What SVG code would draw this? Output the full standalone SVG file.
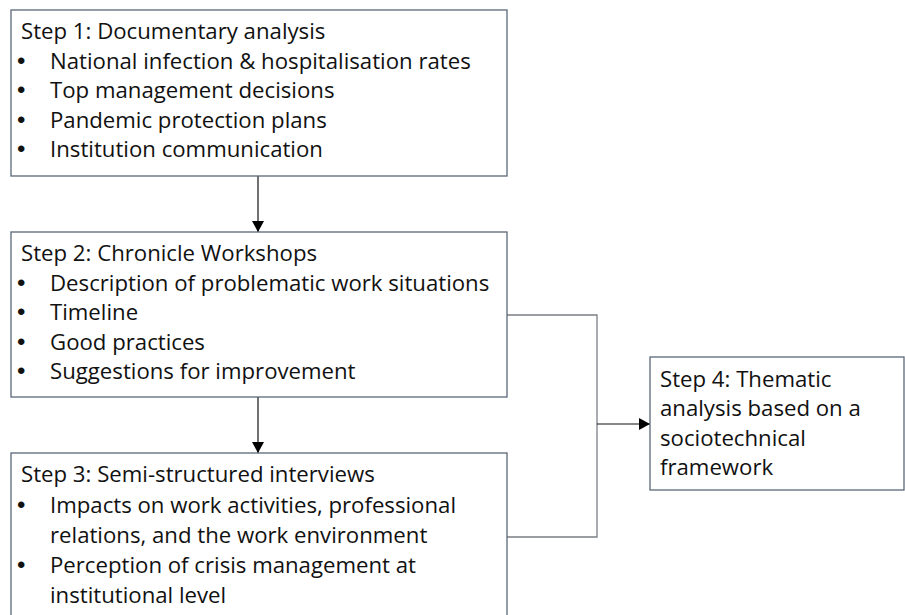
<svg xmlns="http://www.w3.org/2000/svg" width="905" height="615" viewBox="0 0 905 615">
<style>
.box{fill:#fff;stroke:#5b6878;stroke-width:1.3}
.t{font-family:"Open Sans","Liberation Sans",sans-serif;font-size:22.2px;fill:#111}
.b{font-family:"Liberation Sans",sans-serif;font-size:24px;fill:#111}
.c{fill:none;stroke:#111;stroke-width:1.2}
.g{fill:none;stroke:#7a7f85;stroke-width:1.3}
</style>
<defs>
<marker id="ah" viewBox="0 0 11 12" refX="11" refY="6" markerWidth="11" markerHeight="12" markerUnits="userSpaceOnUse" orient="auto">
<path d="M0,0 L11,6 L0,12 z" fill="#000"/>
</marker>
</defs>
<rect width="905" height="615" fill="#fff"/>
<g id="connectors">
<line class="c" x1="258" y1="176" x2="258" y2="232" marker-end="url(#ah)"/>
<line class="c" x1="258" y1="397" x2="258" y2="453" marker-end="url(#ah)"/>
<polyline class="g" points="507,315 597,315 597,537 507,537"/>
<line class="c" x1="597" y1="424" x2="650" y2="424" marker-end="url(#ah)"/>
</g>
<g id="step1">
<rect class="box" x="11" y="10" width="496" height="166"/>
<text class="t" x="21" y="39">Step 1: Documentary analysis</text>
<text class="b" x="17" y="69">•</text><text class="t" x="50" y="69">National infection &amp; hospitalisation rates</text>
<text class="b" x="17" y="98">•</text><text class="t" x="50" y="98">Top management decisions</text>
<text class="b" x="17" y="128">•</text><text class="t" x="50" y="128">Pandemic protection plans</text>
<text class="b" x="17" y="157">•</text><text class="t" x="50" y="157">Institution communication</text>
</g>
<g id="step2">
<rect class="box" x="11" y="232" width="496" height="165"/>
<text class="t" x="21" y="261">Step 2: Chronicle Workshops</text>
<text class="b" x="17" y="291">•</text><text class="t" x="50" y="291">Description of problematic work situations</text>
<text class="b" x="17" y="320">•</text><text class="t" x="50" y="320">Timeline</text>
<text class="b" x="17" y="350">•</text><text class="t" x="50" y="350">Good practices</text>
<text class="b" x="17" y="379">•</text><text class="t" x="50" y="379">Suggestions for improvement</text>
</g>
<g id="step3">
<rect class="box" x="11" y="453" width="496" height="180"/>
<text class="t" x="21" y="482">Step 3: Semi-structured interviews</text>
<text class="b" x="17" y="513">•</text><text class="t" x="50" y="513">Impacts on work activities, professional</text>
<text class="t" x="50" y="543">relations, and the work environment</text>
<text class="b" x="17" y="573">•</text><text class="t" x="50" y="573">Perception of crisis management at</text>
<text class="t" x="50" y="603">institutional level</text>
</g>
<g id="step4">
<rect class="box" x="650" y="357" width="254" height="133"/>
<text class="t" x="660" y="387">Step 4: Thematic</text>
<text class="t" x="660" y="416">analysis based on a</text>
<text class="t" x="660" y="446">sociotechnical</text>
<text class="t" x="660" y="475">framework</text>
</g>
</svg>
